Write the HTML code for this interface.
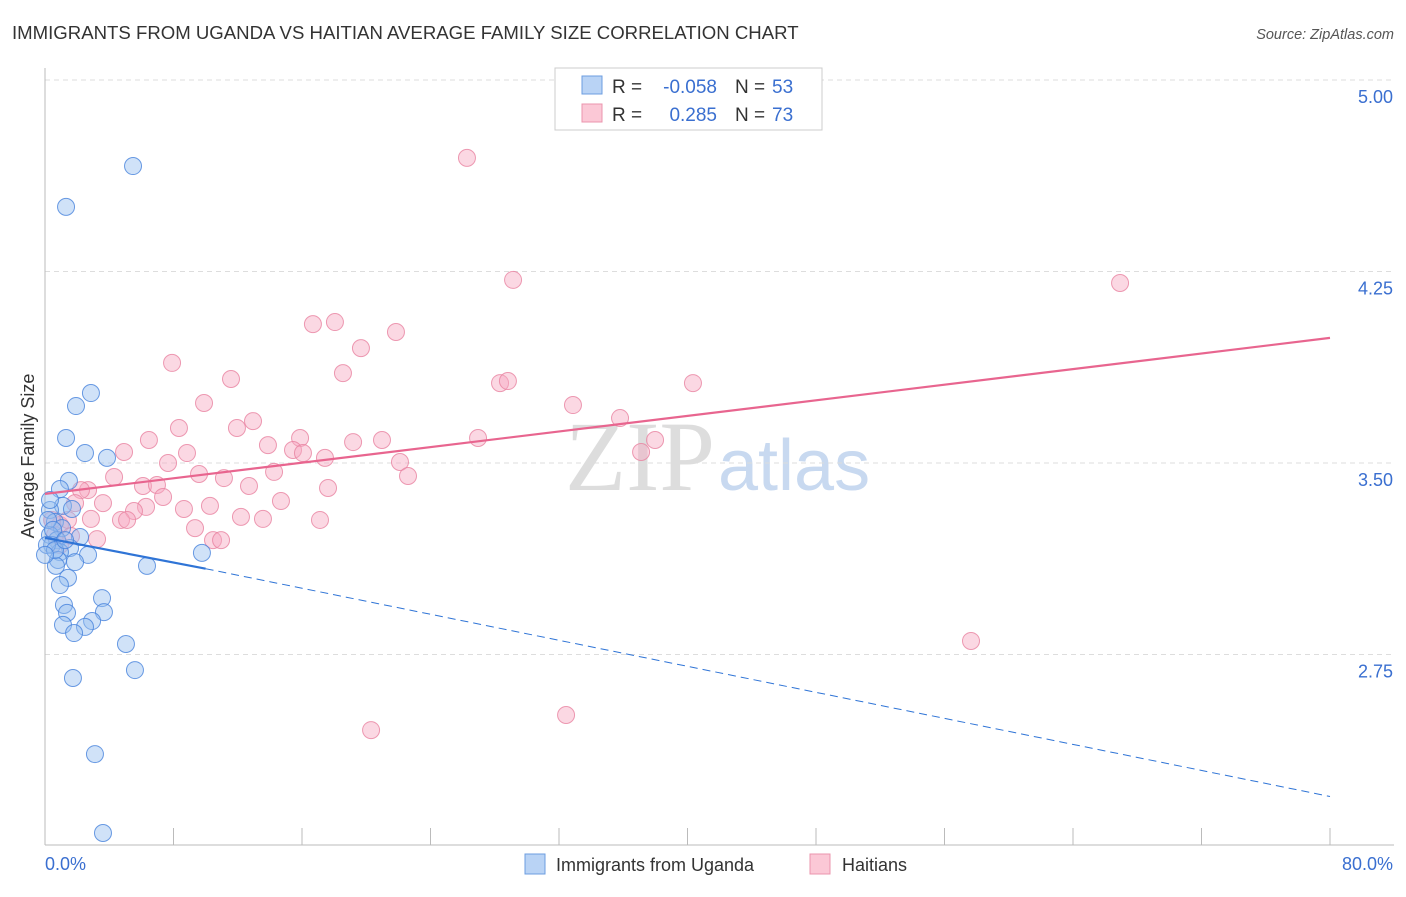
<!DOCTYPE html>
<html><head><meta charset="utf-8"><style>
body{margin:0;background:#fff;font-family:"Liberation Sans",sans-serif;}
</style></head><body>
<svg width="1406" height="892" xmlns="http://www.w3.org/2000/svg">
<text x="12" y="39" font-size="18.6" fill="#333">IMMIGRANTS FROM UGANDA VS HAITIAN AVERAGE FAMILY SIZE CORRELATION CHART</text>
<text x="1394" y="39" font-size="14.5" fill="#555" font-style="italic" text-anchor="end">Source: ZipAtlas.com</text>
<text x="715" y="490" font-size="100" fill="#ddd" text-anchor="end" font-family="Liberation Serif,serif">ZIP</text>
<text x="718" y="490" font-size="72" fill="#c8d9f0">atlas</text>
<g id="grid"></g>
<line x1="45" y1="68" x2="45" y2="845" stroke="#bbb"/>
<line x1="45" y1="845" x2="1394" y2="845" stroke="#bbb"/>
<g id="xt"></g>
<text x="34" y="456" font-size="18" fill="#333" transform="rotate(-90 34 456)" text-anchor="middle">Average Family Size</text>
<text x="45" y="870" font-size="18" fill="#3a6fd0">0.0%</text>
<text x="1393" y="870" font-size="18" fill="#3a6fd0" text-anchor="end">80.0%</text>
<g id="pts"></g>
<g id="lines"></g>
<g>
<rect x="555" y="68" width="267" height="62" fill="#fff" stroke="#ccc"/>
<rect x="582" y="76" width="20" height="18" fill="#b9d3f5" stroke="#6c9ee0"/>
<rect x="582" y="104" width="20" height="18" fill="#fbc8d6" stroke="#eb94ad"/>
<text x="612" y="93" font-size="19" fill="#333">R =</text>
<text x="717" y="93" font-size="19" fill="#3a6fd0" text-anchor="end">-0.058</text>
<text x="735" y="93" font-size="19" fill="#333">N =</text>
<text x="772" y="93" font-size="19" fill="#3a6fd0">53</text>
<text x="612" y="121" font-size="19" fill="#333">R =</text>
<text x="717" y="121" font-size="19" fill="#3a6fd0" text-anchor="end">0.285</text>
<text x="735" y="121" font-size="19" fill="#333">N =</text>
<text x="772" y="121" font-size="19" fill="#3a6fd0">73</text>
</g>
<g>
<rect x="525" y="854" width="20" height="20" fill="#b9d3f5" stroke="#6c9ee0"/>
<text x="556" y="871" font-size="18" fill="#333">Immigrants from Uganda</text>
<rect x="810" y="854" width="20" height="20" fill="#fbc8d6" stroke="#eb94ad"/>
<text x="842" y="871" font-size="18" fill="#333">Haitians</text>
</g>
</svg>
<script>
const yTicks=[5.00,4.25,3.50,2.75];
const xTicks=[8,16,24,32,40,48,56,64,72,80];
const bluePx=[[133,166],[66,207],[91,393],[76,406],[66,438],[85,453],[107,458],[69,481],[60,489],[63,506],[72,509],[50,510],[55,522],[62,528],[50,535],[80,537],[57,540],[52,545],[70,548],[60,552],[88,555],[58,560],[75,562],[56,566],[147,566],[202,553],[68,578],[60,585],[64,605],[102,598],[67,613],[104,612],[92,621],[85,627],[63,625],[74,633],[126,644],[135,670],[73,678],[95,754],[103,833],[48,520],[53,530],[47,545],[55,550],[65,540],[45,555],[50,500]];
const pinkPx=[[467,158],[513,280],[1120,283],[313,324],[335,322],[396,332],[361,348],[172,363],[343,373],[231,379],[500,383],[508,381],[693,383],[204,403],[573,405],[253,421],[620,418],[237,428],[179,428],[149,440],[124,452],[268,445],[300,438],[293,450],[353,442],[382,440],[478,438],[655,440],[187,453],[303,453],[325,458],[641,452],[168,463],[400,462],[114,477],[199,474],[274,472],[224,478],[143,486],[408,476],[88,490],[81,490],[157,485],[249,486],[328,488],[163,497],[103,503],[146,507],[75,503],[210,506],[281,501],[184,509],[134,511],[121,520],[91,519],[127,520],[241,517],[263,519],[320,520],[195,528],[97,539],[213,540],[221,540],[60,525],[55,535],[68,520],[371,730],[566,715],[971,641],[71,536],[52,520],[60,545]];
const blueX=bluePx.map(p=>+((p[0]-45)/16.0625).toFixed(2));
const blueY=bluePx.map(p=>+(3.5-(p[1]-463)/255.33).toFixed(3));
const pinkX=pinkPx.map(p=>+((p[0]-45)/16.0625).toFixed(2));
const pinkY=pinkPx.map(p=>+(3.5-(p[1]-463)/255.33).toFixed(3));
const X=v=>45+v*16.0625, Y=v=>463-(v-3.5)*255.33;
const NS="http://www.w3.org/2000/svg";
function mk(t,a,parent){const e=document.createElementNS(NS,t);for(const k in a)e.setAttribute(k,a[k]);parent.appendChild(e);return e;}
const grid=document.getElementById('grid');
yTicks.forEach(v=>{
 const l=mk('line',{x1:45,x2:1394,y1:Y(v),y2:Y(v),stroke:'#ddd','stroke-dasharray':'5,4'},grid);
 
 
 const t=mk('text',{x:1393,y:Y(v)+23,'font-size':18,fill:'#3a6fd0','text-anchor':'end'},grid);
 t.textContent=v.toFixed(2);
 
 
});
const xt=document.getElementById('xt');
xTicks.forEach(v=>{
 const l=mk('line',{x1:X(v),x2:X(v),y1:828,y2:845,stroke:'#bbb'},xt);
 
 
});
const pts=document.getElementById('pts');
pinkX.forEach((x,i)=>{
 const c=mk('circle',{cx:X(x),cy:Y(pinkY[i]),r:8.5,fill:'rgba(246,168,192,0.45)',stroke:'rgba(232,130,160,0.8)','stroke-width':1},pts);
 
 
});
blueX.forEach((x,i)=>{
 const c=mk('circle',{cx:X(x),cy:Y(blueY[i]),r:8.5,fill:'rgba(150,190,240,0.45)',stroke:'rgba(70,130,220,0.8)','stroke-width':1},pts);
 
 
});
const lines=document.getElementById('lines');
const pl=mk('line',{x1:X(0),y1:Y(3.379),x2:X(80),y2:Y(3.99),stroke:'#e8658f','stroke-width':2.2},lines);


const bl=mk('line',{x1:X(0),y1:Y(3.207),x2:X(10),y2:Y(3.086),stroke:'#2f74d6','stroke-width':2.2},lines);


const bd=mk('line',{x1:X(10),y1:Y(3.086),x2:X(80),y2:Y(2.194),stroke:'#2f74d6','stroke-width':1,'stroke-dasharray':'8,5'},lines);


</script>
</body></html>
